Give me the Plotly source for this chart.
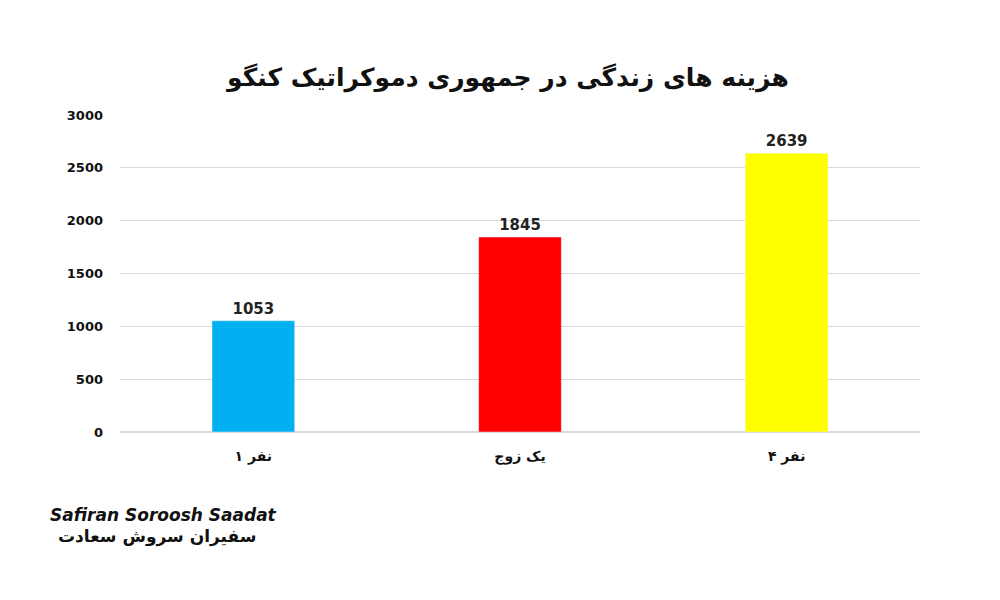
import plotly.graph_objects as go

categories = ["\u200e۱ نفر", "یک زوج", "\u200e۴ نفر"]
values = [1053, 1845, 2639]
colors = ["#00B0F0", "#FF0000", "#FFFF00"]
tick_vals = [0, 500, 1000, 1500, 2000, 2500, 3000]

fig = go.Figure(go.Bar(
    x=categories, y=values, marker_color=colors, width=0.31,
    text=["<b>%d</b>" % v for v in values], textposition="outside",
    textfont=dict(size=15, color="#222", family="DejaVu Sans"),
    cliponaxis=False,
))
fig.update_layout(
    width=1000, height=600, paper_bgcolor="white", plot_bgcolor="white",
    margin=dict(l=112, r=88, t=107, b=176),
    title=dict(text="<b>هزینه های زندگی در جمهوری دموکراتیک کنگو</b>", x=0.5, xanchor="center",
               y=0.885, yanchor="middle", font=dict(size=25, color="#111", family="DejaVu Sans")),
    showlegend=False,
    xaxis=dict(tickfont=dict(size=14, color="#111", family="DejaVu Sans", weight="bold"),
               showline=False, ticks="", ticklabelstandoff=14),
    yaxis=dict(range=[0, 3000], tickvals=tick_vals, gridcolor="#D9D9D9", zeroline=True,
               zerolinecolor="#D9D9D9",
               tickfont=dict(size=13, color="#111", family="DejaVu Sans", weight="bold"),
               ticklabelstandoff=16),
)
fig.add_annotation(text="<b><i>Safiran Soroosh Saadat</i></b>", xref="paper", yref="paper",
                   x=-0.09, y=-0.3, xanchor="left", showarrow=False,
                   font=dict(size=17, color="#111", family="DejaVu Sans"))
fig.add_annotation(text="<b>سفیران سروش سعادت</b>", xref="paper", yref="paper",
                   x=-0.08, y=-0.37, xanchor="left", showarrow=False,
                   font=dict(size=17, color="#111", family="DejaVu Sans"))
fig.write_html("out.html")
